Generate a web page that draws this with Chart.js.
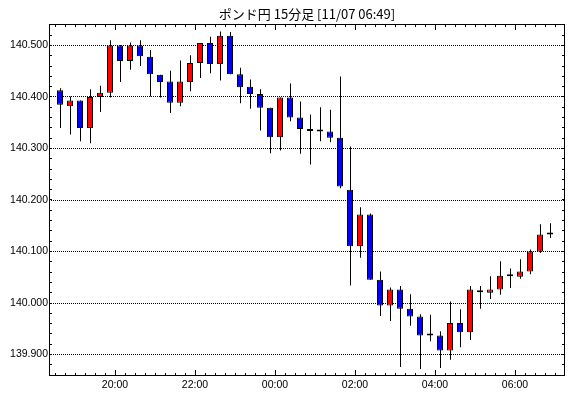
<!DOCTYPE html>
<html>
<head>
<meta charset="utf-8">
<script src="https://cdn.jsdelivr.net/npm/chart.js@4.4.1/dist/chart.umd.min.js"></script>
<style>
html,body{margin:0;padding:0;background:#fff;}
#wrap{width:570px;height:398px;position:relative;}
canvas{display:block;}
</style>
</head>
<body>
<div id="wrap"><canvas id="c" width="570" height="398"></canvas></div>
<script>
const chartTitle = 'ポンド円 15分足 [11/07 06:49]';

const times = ['18:30','18:45','19:00','19:15','19:30','19:45','20:00','20:15','20:30','20:45',
  '21:00','21:15','21:30','21:45','22:00','22:15','22:30','22:45','23:00','23:15',
  '23:30','23:45','00:00','00:15','00:30','00:45','01:00','01:15','01:30','01:45',
  '02:00','02:15','02:30','02:45','03:00','03:15','03:30','03:45','04:00','04:15',
  '04:30','04:45','05:00','05:15','05:30','05:45','06:00','06:15','06:30','06:45'];

const open = [140.413,140.382,140.393,140.340,140.400,140.408,140.500,140.470,140.500,140.478,
  140.443,140.430,140.389,140.429,140.466,140.505,140.464,140.519,140.444,140.420,
  140.406,140.379,140.322,140.399,140.360,140.338,140.333,140.333,140.321,140.220,
  140.110,140.172,140.045,139.995,140.026,139.989,139.974,139.937,139.937,139.908,
  139.961,139.943,140.021,140.020,140.026,140.052,140.051,140.061,140.100,140.133];

const high = [140.417,140.401,140.393,140.415,140.422,140.510,140.501,140.506,140.510,140.491,
  140.443,140.451,140.471,140.481,140.505,140.517,140.527,140.526,140.457,140.434,
  140.415,140.379,140.399,140.426,140.391,140.366,140.380,140.375,140.440,140.304,
  140.186,140.174,140.061,140.030,140.033,140.017,139.978,139.977,139.945,140.003,
  139.988,140.033,140.033,140.052,140.081,140.067,140.085,140.104,140.153,140.155];

const low = [140.340,140.327,140.314,140.310,140.371,140.399,140.429,140.453,140.460,140.401,
  140.399,140.369,140.382,140.411,140.437,140.446,140.432,140.444,140.388,140.377,
  140.335,140.291,140.296,140.353,140.290,140.269,140.314,140.312,140.223,140.034,
  140.088,140.045,139.975,139.965,139.876,139.956,139.872,139.926,139.874,139.890,
  139.914,139.928,139.989,140.008,140.016,140.029,140.047,140.056,140.097,140.126];

const close = [140.385,140.393,140.340,140.400,140.408,140.500,140.470,140.500,140.479,140.444,
  140.429,140.389,140.430,140.466,140.505,140.464,140.519,140.444,140.419,140.406,
  140.379,140.322,140.399,140.360,140.338,140.334,140.333,140.321,140.226,140.110,
  140.172,140.045,139.995,140.026,139.989,139.974,139.937,139.937,139.908,139.961,
  139.943,140.026,140.021,140.026,140.053,140.052,140.061,140.100,140.133,140.133];

const yTickValues = [139.9, 140.0, 140.1, 140.2, 140.3, 140.4, 140.5];
const xTickLabels = ['20:00','22:00','00:00','02:00','04:00','06:00'];

// minutes since 18:00
function toMin(s){ const p = s.split(':').map(Number); let t = p[0]*60 + p[1] - 18*60; if (t < 0) t += 1440; return t; }

const RED = '#ff0000', BLUE = '#0000ff', BLACK = '#000000';
const X_MIN = 21, X_MAX = 795;

const bodyData = times.map((t, i) => ({ x: toMin(t) + 7.5, y: [open[i], close[i]] }));
const wickData = times.map((t, i) => ({ x: toMin(t) + 7.5, y: [low[i], high[i]] }));

const frameTicks = {
  id: 'frameTicks',
  afterDraw(chart) {
    const { ctx, chartArea: a } = chart;
    const xs = chart.scales.x, ys = chart.scales.y;
    ctx.save();
    ctx.strokeStyle = BLACK;
    ctx.lineWidth = 1;
    ctx.beginPath();
    // x ticks every 15 minutes, longer every 2 hours
    for (let v = Math.ceil(X_MIN / 15) * 15; v < X_MAX; v += 15) {
      const px = Math.floor(xs.getPixelForValue(v)) + 0.5;
      if (px <= a.left + 1 || px >= a.right - 1) continue;
      const len = (v % 120 === 0) ? 6 : 3;
      ctx.moveTo(px, a.top); ctx.lineTo(px, a.top + len);
      ctx.moveTo(px, a.bottom); ctx.lineTo(px, a.bottom - len);
    }
    // y ticks every 0.02
    const k0 = Math.ceil(ys.min / 0.02), k1 = Math.floor(ys.max / 0.02);
    for (let k = k0; k <= k1; k++) {
      const py = Math.floor(ys.getPixelForValue(k * 0.02)) + 0.5;
      if (py <= a.top + 1 || py >= a.bottom - 1) continue;
      ctx.moveTo(a.left, py); ctx.lineTo(a.left + 3, py);
      ctx.moveTo(a.right, py); ctx.lineTo(a.right - 3, py);
    }
    ctx.stroke();
    ctx.strokeRect(a.left + 0.5, a.top + 0.5, a.right - a.left - 1, a.bottom - a.top - 1);
    ctx.restore();
  }
};

new Chart(document.getElementById('c'), {
  type: 'bar',
  data: {
    datasets: [
      {
        label: 'body',
        data: bodyData,
        xAxisID: 'x',
        order: 0,
        barThickness: 6,
        minBarLength: 2,
        grouped: false,
        borderWidth: 1,
        borderColor: BLACK,
        borderSkipped: false,
        inflateAmount: 0,
        backgroundColor: (c) => {
          const i = c.dataIndex;
          if (i === undefined) return BLACK;
          return close[i] > open[i] ? RED : (close[i] < open[i] ? BLUE : BLACK);
        }
      },
      {
        label: 'wick',
        data: wickData,
        xAxisID: 'xw',
        order: 1,
        barThickness: 1,
        grouped: false,
        borderWidth: 0,
        inflateAmount: 0,
        backgroundColor: BLACK
      }
    ]
  },
  options: {
    responsive: false,
    animation: false,
    devicePixelRatio: 1,
    events: [],
    layout: { padding: { left: 0, right: 5, top: 0, bottom: 0 } },
    plugins: {
      legend: { display: false },
      tooltip: { enabled: false },
      title: {
        display: true,
        text: chartTitle,
        fullSize: false,
        color: BLACK,
        font: { family: "'Noto Sans CJK JP', 'Noto Sans CJK SC', sans-serif", size: 13, weight: 'normal', lineHeight: 1.2 },
        padding: { top: 6, bottom: 2.4 }
      }
    },
    scales: {
      x: {
        type: 'linear',
        position: 'bottom',
        min: X_MIN, max: X_MAX,
        offset: false,
        bounds: 'data',
        grid: { display: false, drawTicks: false, offset: false },
        border: { display: false },
        afterBuildTicks: (s) => { s.ticks = xTickLabels.map(l => ({ value: toMin(l) })); },
        afterFit: (s) => { s.height = 22; },
        ticks: {
          autoSkip: false, maxRotation: 0, minRotation: 0, padding: 3,
          color: BLACK,
          font: { family: "'Liberation Sans', sans-serif", size: 10.5 },
          callback: (v) => { const i = xTickLabels.findIndex(l => toMin(l) === v); return i >= 0 ? xTickLabels[i] : ''; }
        }
      },
      xw: {
        type: 'linear',
        display: false,
        min: X_MIN - 0.75, max: X_MAX - 0.75,
        offset: false,
        bounds: 'data'
      },
      y: {
        type: 'linear',
        position: 'left',
        min: 139.8583, max: 140.5417,
        bounds: 'data',
        grid: { display: true, color: BLACK, lineWidth: 1, drawTicks: false },
        border: { display: false, dash: [1, 1] },
        afterBuildTicks: (s) => { s.ticks = yTickValues.map(v => ({ value: v })); },
        afterFit: (s) => { s.width = 49; },
        ticks: {
          padding: 1,
          color: BLACK,
          font: { family: "'Liberation Sans', sans-serif", size: 10.5 },
          callback: (v) => Number(v).toFixed(3)
        }
      }
    }
  },
  plugins: [frameTicks]
});
</script>
</body>
</html>
